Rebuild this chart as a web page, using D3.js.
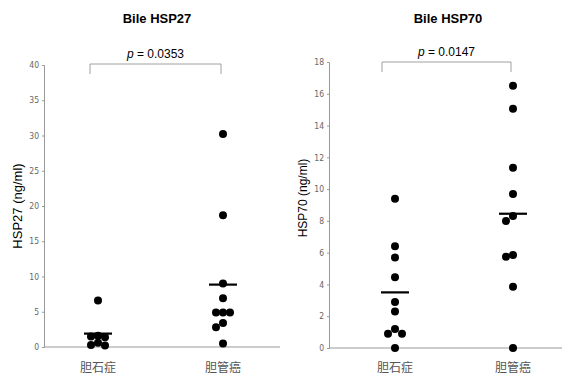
<!DOCTYPE html>
<html>
<head>
<meta charset="utf-8">
<script src="https://cdn.jsdelivr.net/npm/d3@7"></script>
<style>
  body { margin: 0; background: #fff; }
  svg { display: block; }
</style>
</head>
<body>
<svg id="chart" width="562" height="376"></svg>
<script>
// data
const groups = ['胆石症', '胆管癌'];

const hsp27Stone = [6.6, 1.6, 1.5, 1.4, 0.6, 0.3, 0.2];
const hsp27Cancer = [30.2, 18.7, 9.0, 6.9, 4.9, 4.9, 4.9, 3.4, 2.8, 0.5];
const hsp27Means = [1.9, 8.85];
const hsp27Ticks = [0, 5, 10, 15, 20, 25, 30, 35, 40];

const hsp70Stone = [9.4, 6.4, 5.7, 4.45, 2.9, 2.3, 1.2, 0.9, 0.9, 0.0];
const hsp70Cancer = [16.5, 15.05, 11.35, 9.7, 8.3, 8.0, 5.85, 5.75, 3.85, 0.0];
const hsp70Means = [3.5, 8.45];
const hsp70Ticks = [0, 2, 4, 6, 8, 10, 12, 14, 16, 18];

const svg = d3.select('#chart');
const R = 4;

function panel(cfg) {
  const g = svg.append('g');
  const y = d3.scaleLinear().domain([0, cfg.max]).range([cfg.bottom, cfg.top]);
  const x = d3.scalePoint().domain(groups).range(cfg.groupX);

  // title
  g.append('text')
    .attr('x', cfg.titleX).attr('y', 23)
    .attr('text-anchor', 'middle')
    .attr('font-family', 'Liberation Sans, Arial, sans-serif')
    .attr('font-weight', 'bold')
    .attr('font-size', 13)
    .text(cfg.title);

  // y axis
  const yAxis = d3.axisLeft(y).tickValues(cfg.ticks).tickSize(2).tickPadding(3);
  const ya = g.append('g').attr('transform', `translate(${cfg.left},0)`).call(yAxis);
  ya.select('.domain').attr('stroke', '#999');
  ya.selectAll('.tick line').attr('stroke', '#999');
  ya.selectAll('.tick text')
    .attr('font-family', 'Liberation Sans Narrow, DejaVu Sans Condensed, sans-serif')
    .attr('font-size', 8.5)
    .attr('fill', '#666');

  // x axis line
  g.append('line')
    .attr('x1', cfg.left).attr('x2', cfg.right)
    .attr('y1', cfg.bottom).attr('y2', cfg.bottom)
    .attr('stroke', '#999');

  // y label
  g.append('text')
    .attr('transform', `translate(${cfg.labelX},${cfg.labelY}) rotate(-90)`)
    .attr('text-anchor', 'middle')
    .attr('font-family', 'Liberation Sans, Arial, sans-serif')
    .attr('font-size', cfg.labelSize)
    .text(cfg.yLabel);

  // x labels
  g.selectAll('.xl').data(groups).enter().append('text')
    .attr('x', d => x(d)).attr('y', 372)
    .attr('text-anchor', 'middle')
    .attr('font-family', 'Noto Sans CJK SC, sans-serif')
    .attr('font-size', 12)
    .attr('fill', '#555')
    .text(d => d);

  // significance bracket
  const bx0 = x(groups[0]) - cfg.bracketIn, bx1 = x(groups[1]) - 2;
  g.append('path')
    .attr('d', `M${bx0},${cfg.bracketY + 10}V${cfg.bracketY}H${bx1}V${cfg.bracketY + 10}`)
    .attr('fill', 'none').attr('stroke', '#888').attr('stroke-width', 0.8);
  const pt = g.append('text')
    .attr('x', (bx0 + bx1) / 2).attr('y', cfg.bracketY - 6)
    .attr('text-anchor', 'middle')
    .attr('font-family', 'Liberation Sans, Arial, sans-serif')
    .attr('font-size', 12);
  pt.append('tspan').attr('font-style', 'italic').text('p');
  pt.append('tspan').text(' = ' + cfg.p);

  // dots, dodged sideways when they overlap
  cfg.series.forEach((vals, i) => {
    const cx = x(groups[i]);
    const placed = [];
    vals.slice().sort((a, b) => b - a).forEach(v => {
      const cy = y(v);
      let dx = 0;
      for (let k = 0; k < 20; k++) {
        const cand = k === 0 ? 0 : (k % 2 ? -1 : 1) * Math.ceil(k / 2) * 7;
        if (placed.every(p => Math.hypot(p.x - (cx + cand), p.y - cy) >= 5.5)) { dx = cand; break; }
      }
      placed.push({ x: cx + dx, y: cy });
    });
    g.selectAll(null).data(placed).enter().append('circle')
      .attr('cx', d => d.x).attr('cy', d => d.y).attr('r', R)
      .attr('fill', '#000');
  });

  // mean bars
  g.selectAll('.mean').data(cfg.means).enter().append('line')
    .attr('x1', (d, i) => x(groups[i]) - 14)
    .attr('x2', (d, i) => x(groups[i]) + 14)
    .attr('y1', d => y(d)).attr('y2', d => y(d))
    .attr('stroke', '#000').attr('stroke-width', 2.2);
}

panel({
  title: 'Bile HSP27', titleX: 157,
  yLabel: 'HSP27 (ng/ml)', labelX: 22, labelY: 206, labelSize: 13,
  max: 40, ticks: hsp27Ticks, top: 65, bottom: 347,
  left: 44, right: 280, groupX: [98, 223],
  bracketY: 64, bracketIn: 8, p: '0.0353',
  series: [hsp27Stone, hsp27Cancer], means: hsp27Means
});

panel({
  title: 'Bile HSP70', titleX: 448,
  yLabel: 'HSP70 (ng/ml)', labelX: 307, labelY: 198, labelSize: 12,
  max: 18, ticks: hsp70Ticks, top: 62, bottom: 348,
  left: 329, right: 562, groupX: [395, 513],
  bracketY: 62, bracketIn: 13, p: '0.0147',
  series: [hsp70Stone, hsp70Cancer], means: hsp70Means
});
</script>
</body>
</html>
